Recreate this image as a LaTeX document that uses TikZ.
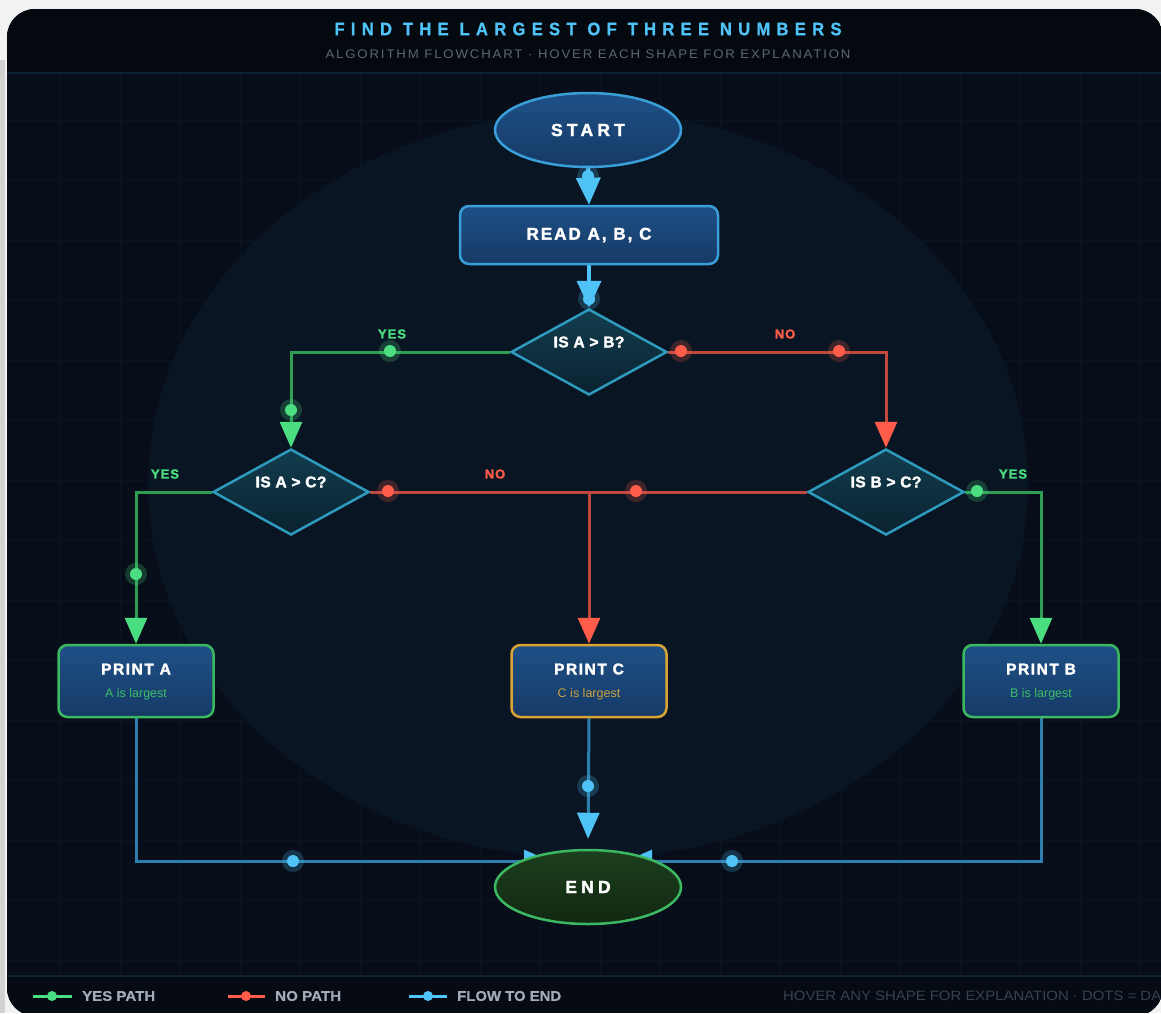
\documentclass[tikz,border=0pt]{standalone}
\usepackage{fontspec}
\usepackage{graphicx}
\setmainfont{Liberation Sans}
\newfontfamily\ttlfont{Liberation Sans Bold}[LetterSpace=38, FakeBold=1]
\newfontfamily\subfont{Liberation Sans}[LetterSpace=14]
\newfontfamily\termfont{Liberation Sans Bold}[LetterSpace=24, FakeBold=2]
\newfontfamily\procfont{Liberation Sans Bold}[LetterSpace=12, FakeBold=2]
\newfontfamily\decfont{Liberation Sans Bold}[LetterSpace=3, FakeBold=2]
\newfontfamily\prtfont{Liberation Sans Bold}[LetterSpace=10, FakeBold=2]
\newfontfamily\lblfont{Liberation Sans Bold}[LetterSpace=8, FakeBold=1.5]
\newfontfamily\legfont{Liberation Sans Bold}[FakeBold=0.5]
\usetikzlibrary{arrows.meta,shapes.geometric,calc}
\definecolor{cOuter}{HTML}{F2F2F2}
\definecolor{cMain}{HTML}{070E19}
\definecolor{cHead}{HTML}{04080F}
\definecolor{cFoot}{HTML}{050A13}
\definecolor{cRule}{HTML}{0F2232}
\definecolor{cGrid}{HTML}{0A1422}
\definecolor{cGlow}{HTML}{0A1624}
\definecolor{cTitle}{HTML}{4FC3F7}
\definecolor{cSub}{HTML}{5C6773}
\definecolor{cBlue}{HTML}{4FC3F7}
\definecolor{cBlueLine}{HTML}{2E7FAE}
\definecolor{cGreen}{HTML}{4ADE80}
\definecolor{cGreenLine}{HTML}{2F9E55}
\definecolor{cRed}{HTML}{FF5C4A}
\definecolor{cRedLine}{HTML}{C0483C}
\definecolor{cBorder}{HTML}{3A9FD8}
\definecolor{cNodeT}{HTML}{1E5086}
\definecolor{cNodeB}{HTML}{163A66}
\definecolor{cDiaBorder}{HTML}{2E9BBE}
\definecolor{cDiaT}{HTML}{123D4E}
\definecolor{cDiaB}{HTML}{0A2230}
\definecolor{cEndT}{HTML}{1D3F1D}
\definecolor{cEndB}{HTML}{112811}
\definecolor{cGreenBorder}{HTML}{3DB862}
\definecolor{cGold}{HTML}{D9A435}
\definecolor{cGreenText}{HTML}{3DBE6A}
\definecolor{cGoldText}{HTML}{C9A23E}
\definecolor{cLegend}{HTML}{A3ADB8}
\definecolor{cFootText}{HTML}{364351}
\pgfdeclarelayer{bg}
\pgfdeclarelayer{edges}
\pgfdeclarelayer{fg}
\pgfsetlayers{bg,edges,main,fg}
\newcommand\glowdot[2]{\fill[#1,opacity=0.22] #2 circle[radius=11pt]; \fill[#1] #2 circle[radius=6pt];}
\begin{document}
\begin{tikzpicture}[x=1pt,y=-1pt,
  terminal/.style={ellipse, line width=2.5pt, minimum width=186pt, minimum height=74pt, inner sep=0pt, text=white, font=\fontsize{17.5}{20}\selectfont\termfont},
  procbox/.style={rectangle, rounded corners=9pt, draw=cBorder, line width=2.5pt, minimum width=258pt, minimum height=58pt, top color=cNodeT, bottom color=cNodeB, text=white, font=\fontsize{17}{20}\selectfont\procfont},
  decision/.style={diamond, draw=cDiaBorder, line width=2.5pt, minimum width=156pt, minimum height=86pt, inner sep=0pt, top color=cDiaT, bottom color=cDiaB},
  dtext/.style={text=white, font=\fontsize{15.5}{18}\selectfont\decfont, inner sep=0pt},
  printbox/.style={rectangle, rounded corners=9pt, line width=2.5pt, minimum width=155pt, minimum height=72pt, top color=cNodeT, bottom color=cNodeB},
  ptitle/.style={text=white, font=\fontsize{15.5}{18}\selectfont\prtfont, inner sep=0pt},
  psub/.style={font=\fontsize{12.5}{15}\selectfont, inner sep=0pt},
  yeslbl/.style={text=cGreen, font=\fontsize{13}{15}\selectfont\lblfont, inner sep=0pt},
  nolbl/.style={text=cRed, font=\fontsize{13}{15}\selectfont\lblfont, inner sep=0pt},
  yesedge/.style={draw=cGreenLine, line width=3pt, -{Triangle[width=22pt,length=26pt,color=cGreen]}},
  noedge/.style={draw=cRedLine, line width=3pt, -{Triangle[width=22pt,length=26pt,color=cRed]}},
  flowedge/.style={draw=cBlueLine, line width=3pt, -{Triangle[width=22pt,length=26pt,color=cBlue]}},
  mainedge/.style={draw=cBlue, line width=4pt, -{Triangle[width=24pt,length=27pt,color=cBlue]}},
  legtext/.style={text=cLegend, font=\fontsize{14}{16}\selectfont\legfont, inner sep=0pt, anchor=west}
]
\useasboundingbox (0,0) rectangle (1161,1013);
\begin{pgfonlayer}{bg}
\fill[cOuter] (0,0) rectangle (1161,1013);
\fill[gray!35] (0,60) rectangle (5,1013);
\begin{scope}
  \clip[rounded corners=28pt] (7,9) rectangle (1163,1016);
  \fill[cMain] (0,0) rectangle (1161,1013);
  \foreach \gx in {60,120,...,1140} {\draw[cGrid, line width=1pt] (\gx,74) -- (\gx,975);}
  \foreach \gy in {120,180,...,960} {\draw[cGrid, line width=1pt] (0,\gy) -- (1161,\gy);}
  \fill[cGlow, opacity=0.9] (588,485) ellipse[x radius=440pt, y radius=373pt];
  \fill[cHead] (0,0) rectangle (1161,73);
  \draw[cRule, line width=2pt] (0,73) -- (1161,73);
  \fill[cFoot] (0,976) rectangle (1161,1013);
  \draw[cRule, line width=2pt] (0,976) -- (1161,976);
  \node[inner sep=0pt, text=cTitle, font=\fontsize{18}{20}\selectfont\ttlfont] (title) at (588,29) {\resizebox{507pt}{\height}{FIND THE LARGEST OF THREE NUMBERS}};
  \node[inner sep=0pt, text=cSub, font=\fontsize{12.5}{14}\selectfont\subfont] (subtitle) at (588,54) {\resizebox{525pt}{\height}{ALGORITHM FLOWCHART · HOVER EACH SHAPE FOR EXPLANATION}};
  % legend
  \draw[cGreen, line width=3pt] (33,996) -- (72,996); \fill[cGreen] (52,996) circle[radius=5pt];
  \node[legtext] (lg1) at (82,996) {\resizebox{73pt}{\height}{YES PATH}};
  \draw[cRed, line width=3pt] (228,996) -- (265,996); \fill[cRed] (246,996) circle[radius=5pt];
  \node[legtext] (lg2) at (275,996) {\resizebox{66pt}{\height}{NO PATH}};
  \draw[cBlue, line width=3pt] (409,996) -- (447,996); \fill[cBlue] (428,996) circle[radius=5pt];
  \node[legtext] (lg3) at (457,996) {\resizebox{104pt}{\height}{FLOW TO END}};
  \node[inner sep=0pt, anchor=west, text=cFootText, font=\fontsize{13.5}{15}\selectfont] (foot) at (783,996) {\resizebox{378pt}{\height}{HOVER ANY SHAPE FOR EXPLANATION · DOTS = DA}};
\end{scope}
\end{pgfonlayer}

% nodes
\node[terminal, draw=cBorder, top color=cNodeT, bottom color=cNodeB] (start) at (588,130) {START};
\node[procbox] (read) at (589,235) {READ A, B, C};
\node[decision] (d1) at (589,352) {};
\node[dtext] (d1t) at ($(d1)+(0,-10)$) {IS A > B?};
\node[decision] (d2) at (291,492) {};
\node[dtext] (d2t) at ($(d2)+(0,-10)$) {IS A > C?};
\node[decision] (d3) at (886,492) {};
\node[dtext] (d3t) at ($(d3)+(0,-10)$) {IS B > C?};
\node[printbox, draw=cGreenBorder] (pa) at (136,681) {};
\node[ptitle] (pat) at ($(pa)+(0,-12)$) {PRINT A};
\node[psub, text=cGreenText] (pas) at ($(pa)+(0,13)$) {A is largest};
\node[printbox, draw=cGold] (pc) at (589,681) {};
\node[ptitle] (pct) at ($(pc)+(0,-12)$) {PRINT C};
\node[psub, text=cGoldText] (pcs) at ($(pc)+(0,13)$) {C is largest};
\node[printbox, draw=cGreenBorder] (pb) at (1041,681) {};
\node[ptitle] (pbt) at ($(pb)+(0,-12)$) {PRINT B};
\node[psub, text=cGreenText] (pbs) at ($(pb)+(0,13)$) {B is largest};
\node[terminal, draw=cGreenBorder, top color=cEndT, bottom color=cEndB] (stop) at (588,887) {END};
\coordinate (eL) at ($(stop)+(-38,-26)$);
\coordinate (eR) at ($(stop)+(38,-26)$);

\begin{pgfonlayer}{edges}
  \draw[mainedge] (start.south) -- (read.north);
  \draw[mainedge] (read.south) -- (d1.north);
  \draw[yesedge] (d1.west) -| (d2.north);
  \draw[noedge] (d1.east) -| (d3.north);
  \draw[yesedge] (d2.west) -| (pa.north);
  \draw[noedge] (d2.east) -| (pc.north);
  \draw[draw=cRedLine, line width=3pt] (d3.west) -- (d3.west -| pc.north);
  \draw[yesedge] (d3.east) -| (pb.north);
  \draw[flowedge] (pa.south) |- (eL);
  \draw[flowedge, shorten >=10pt] (pc.south) -- (stop.north);
  \draw[flowedge] (pb.south) |- (eR);
\end{pgfonlayer}

\begin{pgfonlayer}{fg}
  \glowdot{cBlue}{(588,176)}
  \glowdot{cBlue}{(589,299)}
  \glowdot{cGreen}{(390,351)}
  \glowdot{cGreen}{(291,410)}
  \glowdot{cRed}{(681,351)}
  \glowdot{cRed}{(839,351)}
  \glowdot{cGreen}{(136,574)}
  \glowdot{cRed}{(388,491)}
  \glowdot{cRed}{(636,491)}
  \glowdot{cGreen}{(977,491)}
  \glowdot{cBlue}{(293,861)}
  \glowdot{cBlue}{(588,786)}
  \glowdot{cBlue}{(732,861)}
  \node[yeslbl] (y1) at (392,334) {YES};
  \node[nolbl] (n1) at (785,334) {NO};
  \node[yeslbl] (y2) at (165,474) {YES};
  \node[nolbl] (n2) at (495,474) {NO};
  \node[yeslbl] (y3) at (1013,474) {YES};
\end{pgfonlayer}
\end{tikzpicture}
\end{document}
